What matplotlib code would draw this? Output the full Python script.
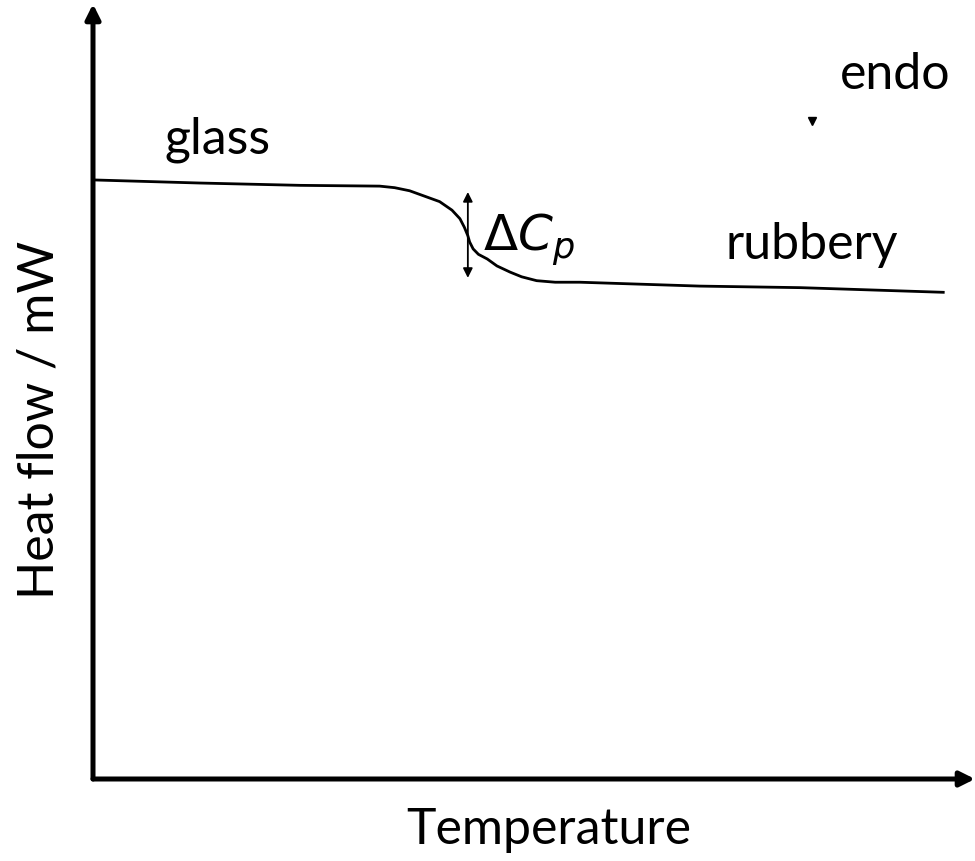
import matplotlib.pyplot as plt

plt.rcParams['font.family'] = ['Lato', 'DejaVu Sans']

# DSC trace across the glass transition (arbitrary units)
temperature = [0, 12.1, 23.5, 32.5, 34.2, 35.9, 37.6, 39.3, 40.7, 41.6, 42.1,
               42.5, 42.7, 43.1, 43.7, 44.7, 45.8, 47.3, 48.6, 50.3, 52.4,
               55.2, 68.8, 80.2, 96.4]
heat_flow = [77.3, 76.9, 76.6, 76.5, 76.3, 75.9, 75.2, 74.5, 73.4, 72.3, 71.2,
             70.1, 69.3, 68.4, 67.7, 67.1, 66.2, 65.4, 64.8, 64.3, 64.1,
             64.1, 63.6, 63.4, 62.8]

# step height marker
dcp_x = 42.5
dcp_top = 76.1
dcp_bottom = 64.3

fig = plt.figure(figsize=(9.75, 8.62), dpi=100)
W, H = 975, 862
ax = fig.add_axes([93 / W, (H - 780) / H, (975 - 93) / W, (780 - 5) / H])
ax.set_xlim(0, 100)
ax.set_ylim(0, 100)
ax.axis('off')

ax.plot(temperature, heat_flow, color='black', lw=2.0)

ax.annotate('', xy=(dcp_x, dcp_bottom), xytext=(dcp_x, dcp_top),
            arrowprops=dict(arrowstyle='<|-|>', color='black', lw=1.3,
                            mutation_scale=14))
ax.text(44.2, 69.7, r'$\Delta C_p$', fontsize=36, va='center', ha='left',
        fontfamily='DejaVu Sans')

ax.text(14.1, 82.6, 'glass', fontsize=36, ha='center', va='center')
ax.text(81.5, 69.0, 'rubbery', fontsize=36, ha='center', va='center')
ax.text(91.0, 91.0, 'endo', fontsize=36, ha='center', va='center')
ax.plot([81.5], [84.9], marker='v', color='black', markersize=6)

# axes drawn as arrows
ax.annotate('', xy=(0, 1.0), xytext=(0, 0), xycoords='axes fraction',
            arrowprops=dict(arrowstyle='-|>', color='black', lw=3.6,
                            mutation_scale=22, shrinkA=0, shrinkB=0))
ax.annotate('', xy=(1.0, 0), xytext=(0, 0), xycoords='axes fraction',
            arrowprops=dict(arrowstyle='-|>', color='black', lw=3.6,
                            mutation_scale=22, shrinkA=0, shrinkB=0))

fig.text(40 / W, (H - 420) / H, 'Heat flow / mW', rotation=90, fontsize=36,
         ha='center', va='center')
fig.text(549 / W, (H - 830) / H, 'Temperature', fontsize=36,
         ha='center', va='center')

fig.savefig('out.png', dpi=100)
